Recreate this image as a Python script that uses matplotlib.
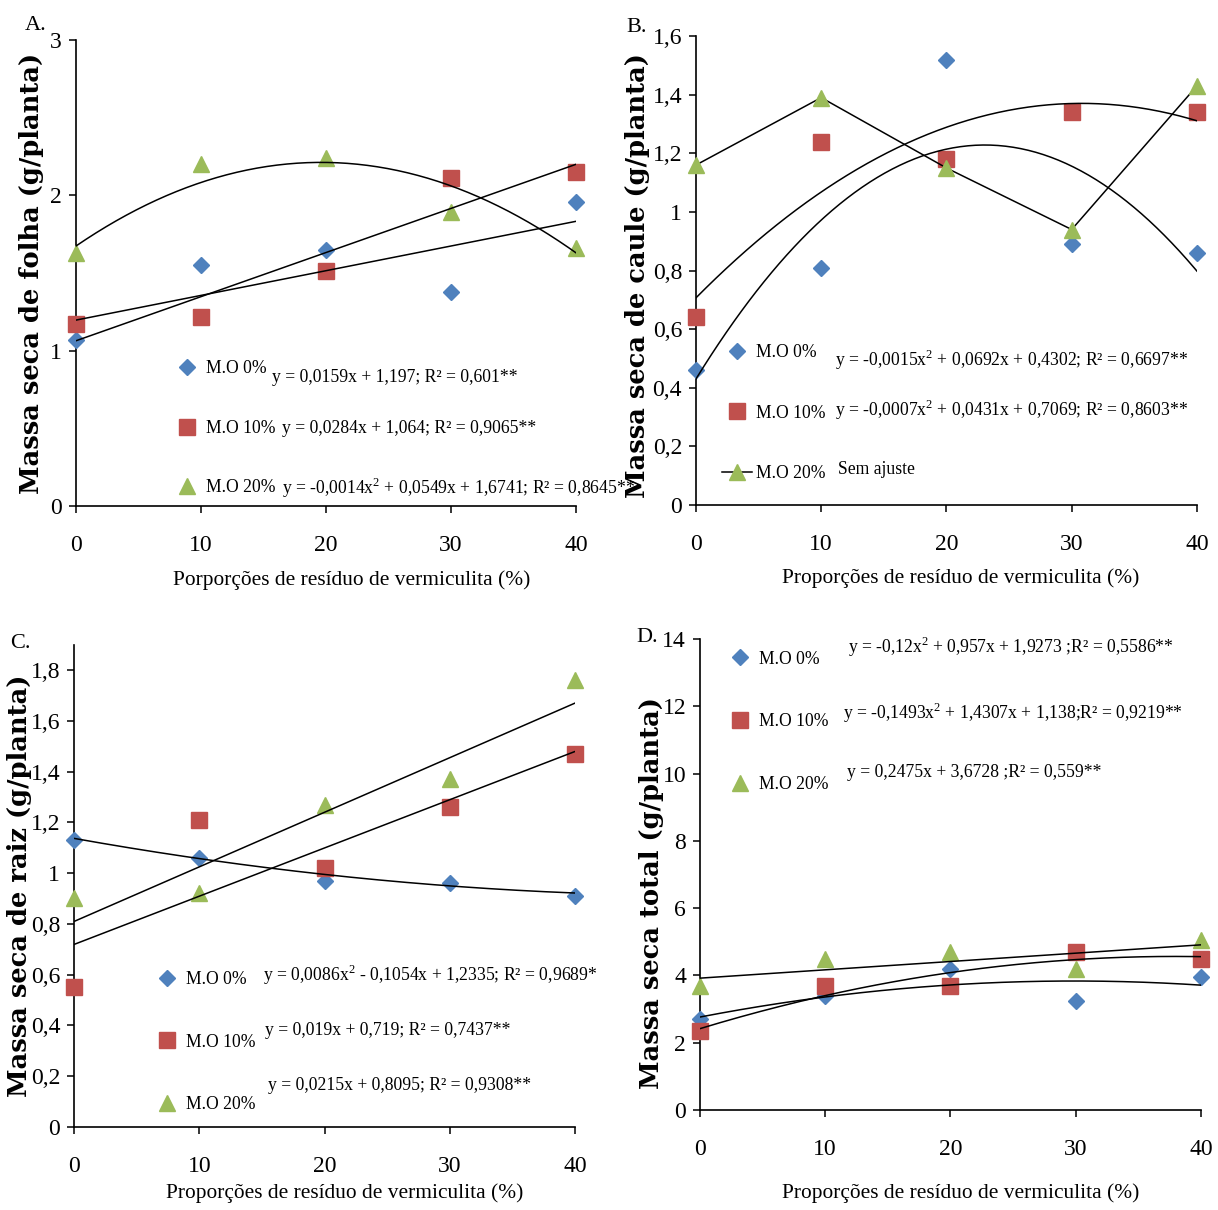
import numpy as np
import matplotlib
matplotlib.use('Agg')
import matplotlib.pyplot as plt
from matplotlib.ticker import FuncFormatter

plt.rcParams['font.family'] = ['Liberation Serif', 'DejaVu Serif']

# proporções de resíduo de vermiculita (%)
x = [0, 10, 20, 30, 40]

# A. massa seca de folha
folha_mo0 = [1.07, 1.55, 1.65, 1.38, 1.96]
folha_mo10 = [1.17, 1.22, 1.51, 2.11, 2.15]
folha_mo20 = [1.63, 2.20, 2.24, 1.89, 1.66]

# B. massa seca de caule
caule_mo0 = [0.46, 0.81, 1.52, 0.89, 0.86]
caule_mo10 = [0.64, 1.24, 1.18, 1.34, 1.34]
caule_mo20 = [1.16, 1.39, 1.15, 0.94, 1.43]

# C. massa seca de raiz
raiz_mo0 = [1.13, 1.06, 0.97, 0.96, 0.91]
raiz_mo10 = [0.55, 1.21, 1.02, 1.26, 1.47]
raiz_mo20 = [0.90, 0.92, 1.27, 1.37, 1.76]

# D. massa seca total
total_mo0 = [2.7, 3.4, 4.2, 3.25, 3.95]
total_mo10 = [2.35, 3.7, 3.7, 4.7, 4.5]
total_mo20 = [3.7, 4.5, 4.7, 4.2, 5.05]

# coeficientes das regressões (polyval), None = sem ajuste
# em C e D o x da equação é o nível (1..5)
coef_folha = [[0.0159, 1.197], [0.0284, 1.064], [-0.0014, 0.0549, 1.6741]]
coef_caule = [[-0.0015, 0.0692, 0.4302], [-0.0007, 0.0431, 0.7069], None]
coef_raiz = [[0.0086, -0.1054, 1.2335], [0.019, 0.719], [0.0215, 0.8095]]
coef_total = [[-0.12, 0.957, 1.9273], [-0.1493, 1.4307, 1.138], [0.2475, 3.6728]]
nivel_raiz = [True, False, False]
nivel_total = [True, True, True]

eq_folha = ['y = 0,0159x + 1,197; R² = 0,601**',
            'y = 0,0284x + 1,064; R² = 0,9065**',
            'y = -0,0014x$^2$ + 0,0549x + 1,6741; R² = 0,8645**']
eq_caule = ['y = -0,0015x$^2$ + 0,0692x + 0,4302; R² = 0,6697**',
            'y = -0,0007x$^2$ + 0,0431x + 0,7069; R² = 0,8603**',
            'Sem ajuste']
eq_raiz = ['y = 0,0086x$^2$ - 0,1054x + 1,2335; R² = 0,9689*',
           'y = 0,019x + 0,719; R² = 0,7437**',
           'y = 0,0215x + 0,8095; R² = 0,9308**']
eq_total = ['y = -0,12x$^2$ + 0,957x + 1,9273 ;R² = 0,5586**',
            'y = -0,1493x$^2$ + 1,4307x + 1,138;R² = 0,9219**',
            'y = 0,2475x + 3,6728 ;R² = 0,559**']

series_labels = ['M.O 0%', 'M.O 10%', 'M.O 20%']
cores = ['#4F81BD', '#C0504D', '#9BBB59']
marcadores = ['D', 's', '^']
msizes = [8.5, 11, 11]

plt.rcParams['mathtext.fontset'] = 'custom'
plt.rcParams['mathtext.rm'] = 'Liberation Serif'

fig = plt.figure(figsize=(12.18, 12.10), dpi=100)

def fmt(v, pos):
    return ('%g' % round(v, 2)).replace('.', ',')

paineis = [
    dict(rect=[0.0624, 0.5818, 0.4105, 0.3851], ys=[folha_mo0, folha_mo10, folha_mo20],
         coef=coef_folha, nivel=[False] * 3, eqs=eq_folha, ylim=(0, 3), step=1,
         ylabel='Massa seca de folha (g/planta)', xlabel='Porporções de resíduo de vermiculita (%)',
         letra='A.', letra_pos=(0.029, 0.979), ylab=(-0.09, 0.5), xlab=(0.552, -0.159),
         leg=(0.192, 0.167), lsp=2.4,
         eqpos=[(0.392, 0.275), (0.412, 0.167), (0.412, 0.039)]),
    dict(rect=[0.5714, 0.5826, 0.4113, 0.3876], ys=[caule_mo0, caule_mo10, caule_mo20],
         coef=coef_caule, nivel=[False] * 3, eqs=eq_caule, ylim=(0, 1.6), step=0.2,
         ylabel='Massa seca de caule (g/planta)', xlabel='Proporções de resíduo de vermiculita (%)',
         letra='B.', letra_pos=(0.523, 0.977), ylab=(-0.116, 0.49), xlab=(0.529, -0.156),
         leg=(0.052, 0.196), lsp=2.45,
         eqpos=[(0.277, 0.309), (0.277, 0.203), (0.283, 0.075)]),
    dict(rect=[0.0608, 0.0686, 0.4113, 0.3987], ys=[raiz_mo0, raiz_mo10, raiz_mo20],
         coef=coef_raiz, nivel=nivel_raiz, eqs=eq_raiz, ylim=(0, 1.9), step=0.2,
         ylabel='Massa seca de raiz (g/planta)', xlabel='Proporções de resíduo de vermiculita (%)',
         letra='C.', letra_pos=(0.017, 0.468), ylab=(-0.108, 0.5), xlab=(0.541, -0.137),
         leg=(0.156, 0.176), lsp=2.6,
         eqpos=[(0.377, 0.315), (0.381, 0.201), (0.387, 0.087)]),
    dict(rect=[0.5747, 0.0826, 0.4113, 0.3893], ys=[total_mo0, total_mo10, total_mo20],
         coef=coef_total, nivel=nivel_total, eqs=eq_total, ylim=(0, 14), step=2,
         ylabel='Massa seca total (g/planta)', xlabel='Proporções de resíduo de vermiculita (%)',
         letra='D.', letra_pos=(0.531, 0.473), ylab=(-0.096, 0.46), xlab=(0.521, -0.176),
         leg=(0.050, 0.824), lsp=2.6,
         eqpos=[(0.295, 0.983), (0.285, 0.843), (0.293, 0.716)]),
]

xs = np.linspace(0, 40, 200)

for p in paineis:
    ax = fig.add_axes(p['rect'])
    for i in range(3):
        if p['coef'][i] is None:
            ax.plot(x, p['ys'][i], color='black', lw=1.1, marker=marcadores[i], ms=msizes[i],
                    mfc=cores[i], mec=cores[i], label=series_labels[i], zorder=3, clip_on=False)
        else:
            ax.plot(x, p['ys'][i], ls='none', marker=marcadores[i], ms=msizes[i],
                    mfc=cores[i], mec=cores[i], label=series_labels[i], zorder=3, clip_on=False)
            t = xs / 10 + 1 if p['nivel'][i] else xs
            ax.plot(xs, np.polyval(p['coef'][i], t), color='black', lw=1.1, zorder=4)
        ax.text(p['eqpos'][i][0], p['eqpos'][i][1], p['eqs'][i], transform=ax.transAxes,
                fontsize=12.7, ha='left', va='center')

    ax.set_xlim(0, 40)
    ax.set_ylim(*p['ylim'])
    ax.set_xticks(x)
    ax.set_yticks(np.arange(0, p['ylim'][1] + 1e-9, p['step']))
    ax.yaxis.set_major_formatter(FuncFormatter(fmt))
    for s in ['top', 'right']:
        ax.spines[s].set_visible(False)
    for s in ['left', 'bottom']:
        ax.spines[s].set_linewidth(1.2)
    ax.tick_params(direction='out', length=5, width=1.1, labelsize=17)
    ax.tick_params(axis='x', pad=16)
    ax.tick_params(axis='y', pad=5)
    ax.set_ylabel(p['ylabel'], family='DejaVu Serif', fontsize=18.5, fontweight='bold',
                  va='center')
    ax.yaxis.set_label_coords(*p['ylab'])
    ax.set_xlabel(p['xlabel'], fontsize=15.4, va='center')
    ax.xaxis.set_label_coords(*p['xlab'])
    ax.legend(loc='center left', bbox_to_anchor=p['leg'], frameon=False, fontsize=12.7,
              handlelength=1.7, handletextpad=0.2, labelspacing=p['lsp'],
              borderpad=0, borderaxespad=0)
    fig.text(p['letra_pos'][0], p['letra_pos'][1], p['letra'], fontsize=16,
             ha='center', va='center')

fig.savefig('out.png', dpi=100)
